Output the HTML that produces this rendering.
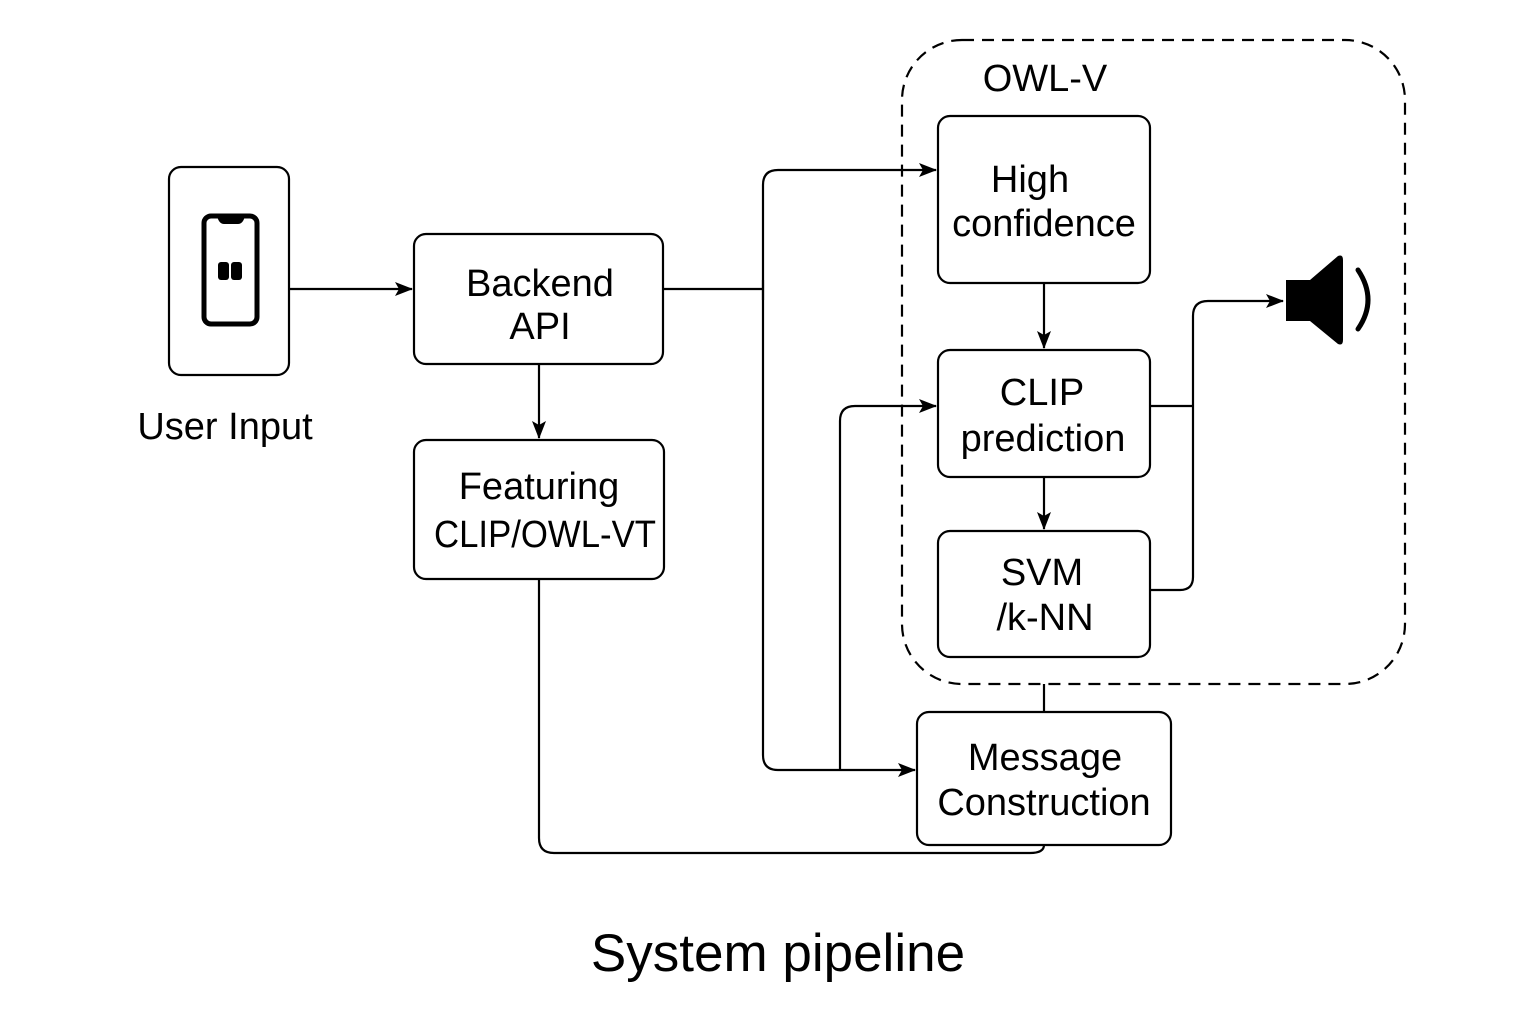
<!DOCTYPE html>
<html><head><meta charset="utf-8"><style>
html,body{margin:0;padding:0;background:#fff;}
svg{display:block;}
text{font-family:"Liberation Sans",sans-serif;fill:#000;text-anchor:middle;}
</style></head><body>
<svg width="1536" height="1024" viewBox="0 0 1536 1024" xmlns="http://www.w3.org/2000/svg">
<defs>
<marker id="a" markerWidth="18" markerHeight="16" refX="17" refY="8" orient="auto" markerUnits="userSpaceOnUse">
<path d="M0,1 L18,8 L0,15 L4,8 Z" fill="#000"/>
</marker>
</defs>
<g fill="none" stroke="#000" stroke-width="2.2">
<rect x="902" y="40" width="503" height="644" rx="60" stroke-dasharray="12,8"/>
<rect x="169" y="167" width="120" height="208" rx="12"/>
<rect x="414" y="234" width="249" height="130" rx="12"/>
<rect x="414" y="440" width="250" height="139" rx="12"/>
<rect x="938" y="116" width="212" height="167" rx="12"/>
<rect x="938" y="350" width="212" height="127" rx="12"/>
<rect x="938" y="531" width="212" height="126" rx="12"/>
<rect x="917" y="712" width="254" height="133" rx="12"/>
<path d="M289,289 H412" marker-end="url(#a)"/>
<path d="M539,364 V438" marker-end="url(#a)"/>
<path d="M664,289 H763"/>
<path d="M763,300 V185 Q763,170 778,170 H936" marker-end="url(#a)"/>
<path d="M763,280 V755 Q763,770 778,770 H915" marker-end="url(#a)"/>
<path d="M840,770 V421 Q840,406 855,406 H936" marker-end="url(#a)"/>
<path d="M539,579 V838 Q539,853 554,853 H1030 Q1044,853 1044,845"/>
<path d="M1044,283 V348" marker-end="url(#a)"/>
<path d="M1044,477 V529" marker-end="url(#a)"/>
<path d="M1150,406 H1193"/>
<path d="M1150,590 H1180 Q1193,590 1193,577 V316 Q1193,301 1208,301 H1283" marker-end="url(#a)"/>
<path d="M1044,712 V684"/>
</g>
<rect x="204" y="216" width="53" height="108" rx="7" fill="none" stroke="#000" stroke-width="5"/>
<path d="M217,216 Q219,224 224,224 H238 Q243,224 245,216 Z" fill="#000"/>
<rect x="218" y="262" width="11" height="18" rx="3" fill="#000"/>
<rect x="231" y="262" width="11" height="18" rx="3" fill="#000"/>
<path d="M1286,280 H1310 L1338,256 Q1343,254 1343,260 V340 Q1343,346 1338,344 L1310,321 H1286 Z" fill="#000"/>
<path d="M1358,270 Q1378,300 1358,329" fill="none" stroke="#000" stroke-width="5" stroke-linecap="round"/>
<g font-size="38">
<text x="1045" y="91">OWL-V</text>
<text x="540" y="296">Backend</text>
<text x="540" y="339">API</text>
<text x="539" y="499">Featuring</text>
<text x="545" y="547" textLength="222" lengthAdjust="spacingAndGlyphs">CLIP/OWL-VT</text>
<text x="1030" y="192">High</text>
<text x="1044" y="236">confidence</text>
<text x="1042" y="405">CLIP</text>
<text x="1043" y="451">prediction</text>
<text x="1042" y="585">SVM</text>
<text x="1045" y="630">/k-NN</text>
<text x="1045" y="770">Message</text>
<text x="1044" y="815">Construction</text>
<text x="225" y="439">User Input</text>
</g>
<text x="778" y="971" font-size="53">System pipeline</text>
</svg>
</body></html>
